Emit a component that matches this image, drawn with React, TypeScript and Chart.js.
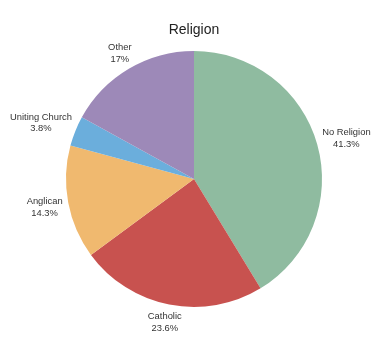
import React, { useEffect, useRef } from "react";
import { Chart, registerables } from "chart.js";

Chart.register(...registerables);

const categories = ["No Religion", "Catholic", "Anglican", "Uniting Church", "Other"];
const percentLabels = ["41.3%", "23.6%", "14.3%", "3.8%", "17%"];
const values = [41.3, 23.6, 14.3, 3.8, 17];
const colors = ["#8FBBA0", "#C8524F", "#F0B96F", "#6BAEDC", "#9D89B8"];

const outsideLabels = {
  id: "outsideLabels",
  afterDatasetsDraw(chart: any) {
    const ctx = chart.ctx;
    const meta = chart.getDatasetMeta(0);
    ctx.save();
    ctx.font = "9.4px 'Liberation Sans', Arial, sans-serif";
    ctx.fillStyle = "#333333";
    ctx.textAlign = "center";
    ctx.textBaseline = "middle";
    const lh = 11.8;
    meta.data.forEach((arc: any, i: number) => {
      const { x, y, startAngle, endAngle, outerRadius } = arc.getProps(
        ["x", "y", "startAngle", "endAngle", "outerRadius"],
        true
      );
      const mid = (startAngle + endAngle) / 2;
      const r = outerRadius + 6;
      const ax = x + Math.cos(mid) * r;
      const ay = y + Math.sin(mid) * r;
      const lines = [categories[i], percentLabels[i]];
      const w = Math.max(...lines.map((l) => ctx.measureText(l).width));
      const h = lh * lines.length;
      const s = Math.sin(mid);
      const cx = ax + (Math.cos(mid) * w) / 2;
      const cy = ay + (Math.sign(s) * Math.pow(Math.abs(s), 0.7) * h) / 2;
      lines.forEach((l, k) => {
        ctx.fillText(l, cx, cy - h / 2 + lh / 2 + k * lh);
      });
    });
    ctx.restore();
  },
};

export default function App() {
  const ref = useRef<HTMLCanvasElement>(null);
  useEffect(() => {
    document.body.style.margin = "0";
    const chart = new Chart(ref.current!, {
      type: "pie",
      data: {
        labels: categories,
        datasets: [
          {
            data: values,
            backgroundColor: colors,
            borderWidth: 0,
          },
        ],
      },
      options: {
        animation: false,
        responsive: false,
        layout: { padding: { top: 0, bottom: 37, left: 66, right: 58 } },
        plugins: {
          legend: { display: false },
          tooltip: { enabled: false },
          title: {
            display: true,
            text: "Religion",
            color: "#222222",
            font: { size: 14, family: "'Liberation Sans', Arial, sans-serif", weight: "normal" },
            padding: { top: 21.3, bottom: 12.9 },
          },
        },
      },
      plugins: [outsideLabels],
    });
    return () => chart.destroy();
  }, []);
  return (
    <div style={{ width: 380, height: 344, background: "#fff" }}>
      <canvas ref={ref} width={380} height={344} />
    </div>
  );
}
